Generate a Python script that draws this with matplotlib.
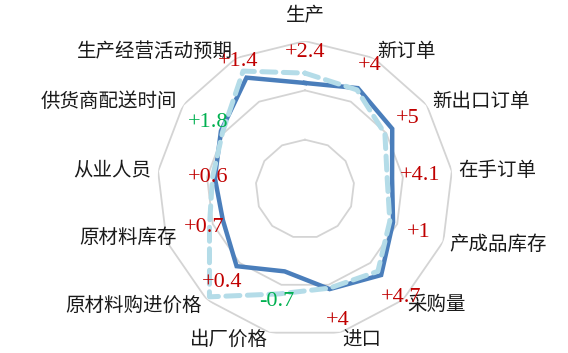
import numpy as np
import matplotlib
matplotlib.use("Agg")
import matplotlib.pyplot as plt

plt.rcParams['font.family'] = ['Noto Sans CJK SC', 'DejaVu Sans']

categories = ["生产", "新订单", "新出口订单", "在手订单", "产成品库存", "采购量", "进口",
              "出厂价格", "原材料购进价格", "原材料库存", "从业人员", "供货商配送时间",
              "生产经营活动预期"]
solid_vals = [51.5, 53.1, 51.5, 47.8, 49.1, 53.3, 50.9, 47.2, 50.9, 47.8, 48.4, 50.7, 55.5]
dashed_vals = [53.5, 52.7, 49.7, 46.8, 48.4, 52.3, 50.7, 51.9, 59.2, 50.7, 48.9, 50.3, 57.0]
changes = ["+2.4", "+4", "+5", "+4.1", "+1", "+4.7", "+4", "-0.7", "+0.4", "+0.7", "+0.6",
           "+1.8", "+1.4"]

# layout / style (not data)
label_r = [57.6, 58.2, 55.3, 53.5, 54.7, 59.4, 57.4, 53.5, 55.3, 51.9, 49.7, 53.9, 59.2]
name_r = [63.0, 61.4, 61.4, 61.4, 61.4, 61.4, 61.4, 61.4, 61.4, 57.8, 61.4, 61.4, 61.4]
label_green = [False] * 7 + [True] + [False] * 3 + [True] + [False]
RED, GREEN = "#C00000", "#00B050"

n = len(categories)
theta = np.arange(n) * 2 * np.pi / n
theta_closed = np.append(theta, theta[0])

fig = plt.figure(figsize=(5.68, 3.53), dpi=100)
ax = fig.add_axes([0.2764, 0.0453, 0.521, 0.8385], projection="polar")
ax.set_theta_zero_location("N")
ax.set_theta_direction(-1)
ax.set_rlim(30, 60)
ax.grid(False)
ax.spines["polar"].set_visible(False)
ax.set_xticks([])
ax.set_yticks([])

# polygon rings
for ring in [40, 50, 60]:
    ax.plot(theta_closed, [ring] * (n + 1), color="#D4D4D4", lw=1.3, zorder=1)

ax.plot(theta_closed, solid_vals + solid_vals[:1], color="#4A7EBB", lw=3.2,
        solid_joinstyle="miter", zorder=3)
ax.plot(theta_closed, dashed_vals + dashed_vals[:1], color="#B4DCE8", lw=3.6,
        linestyle=(0, (2.8, 1.5)), dash_capstyle="round", zorder=4)

for t, r, txt, g in zip(theta, label_r, changes, label_green):
    ax.text(t, r, txt, color=GREEN if g else RED, fontsize=16,
            family="Liberation Serif", ha="center", va="center", zorder=5)

for t, r, name in zip(theta, name_r, categories):
    s, c = np.sin(t), np.cos(t)
    if s > 0.15:
        ha = "left"
    elif s < -0.15:
        ha = "right"
    else:
        ha = "center"
    va = "bottom" if c > 0.9 else "center"
    ax.text(t, r, name, fontsize=14, ha=ha, va=va, color="#1A1A1A")

fig.savefig("out.png", dpi=100)
